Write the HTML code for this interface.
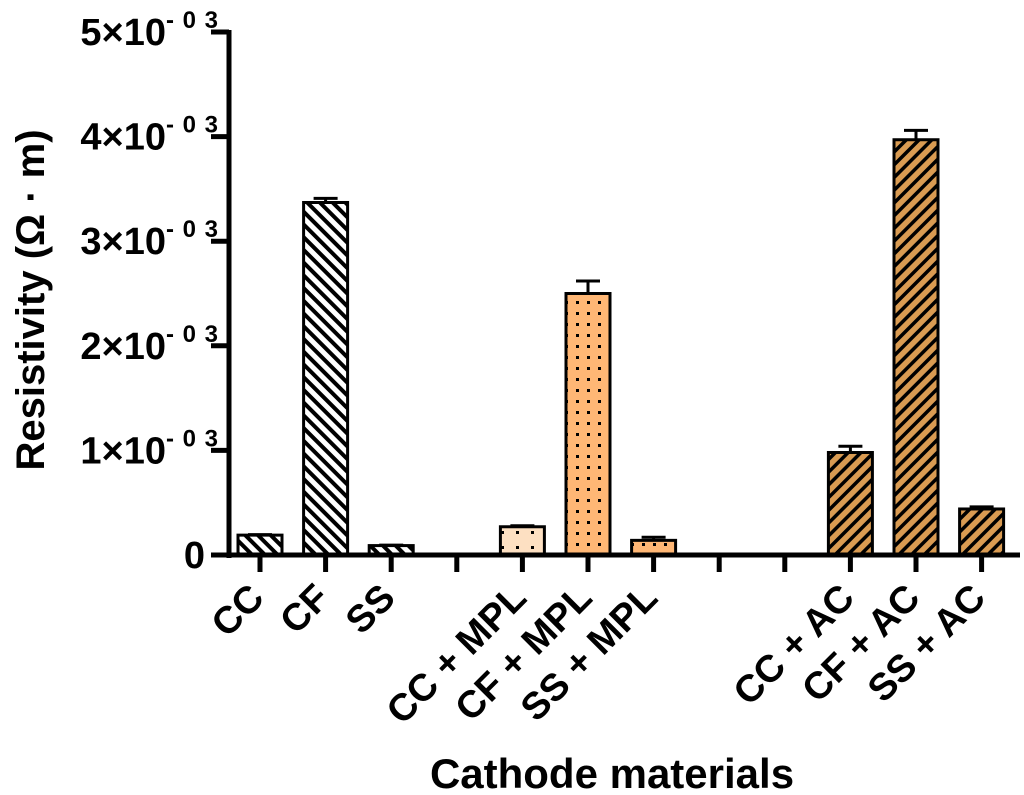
<!DOCTYPE html>
<html><head><meta charset="utf-8"><style>
body{margin:0;background:#fff;}
svg{display:block;font-family:"Liberation Sans",Arial,sans-serif;font-weight:bold;}
</style></head><body>
<svg id="chart" width="1024" height="795" viewBox="0 0 1024 795">
<defs>
<pattern id="hatchBW" width="9" height="9" patternUnits="userSpaceOnUse" patternTransform="rotate(-45)">
<rect width="9" height="9" fill="#fff"/><rect width="4" height="9" fill="#000"/></pattern>
<pattern id="hatchAC" width="9" height="9" patternUnits="userSpaceOnUse" patternTransform="rotate(45)">
<rect width="9" height="9" fill="#d99b52"/><rect width="3.5" height="9" fill="#000"/></pattern>
<pattern id="dotsLight" width="15" height="15" patternUnits="userSpaceOnUse">
<rect width="15" height="15" fill="#fde0c2"/><rect x="6" y="6" width="3" height="3" fill="#000"/></pattern>
<pattern id="dotsOrange" width="11" height="11" patternUnits="userSpaceOnUse">
<rect width="11" height="11" fill="#ffb775"/><rect x="4" y="4" width="3" height="3" fill="#000"/></pattern>
</defs>
<g id="bars"></g>
<g id="axes"></g>
<text x="612" y="788" text-anchor="middle" font-size="42">Cathode materials</text>
<text transform="translate(44,300) rotate(-90)" text-anchor="middle" font-size="40">Resistivity (Ω · m)</text>
</svg>
<script>
const categories=["CC","CF","SS","","CC + MPL","CF + MPL","SS + MPL","","","CC + AC","CF + AC","SS + AC"];
const values=[0.19,3.37,0.09,null,0.27,2.50,0.14,null,null,0.98,3.97,0.44];
const errors=[0.005,0.04,0.005,null,0.01,0.12,0.03,null,null,0.06,0.09,0.02];
const fills=["url(#hatchBW)","url(#hatchBW)","url(#hatchBW)","","url(#dotsLight)","url(#dotsOrange)","url(#dotsOrange)","","","url(#hatchAC)","url(#hatchAC)","url(#hatchAC)"];
const yTicks=[0,1,2,3,4,5];
const NS="http://www.w3.org/2000/svg";
const y0=555,yTop=32,yMax=5;
function yS(v){return y0-(v/yMax)*(y0-yTop);}
function xS(i){return 260+i*65.6;}
function mk(tag,attrs,parent){const e=document.createElementNS(NS,tag);for(const k in attrs)e.setAttribute(k,attrs[k]);parent.appendChild(e);return e;}
const bars=document.getElementById('bars'),axes=document.getElementById('axes');
values.forEach((v,i)=>{
 if(v===null)return;
 const cx=xS(i),top=yS(v);
 if(errors[i]){const et=yS(v+errors[i]);
  const l=mk('path',{d:`M${cx},${top} V${et} M${cx-12},${et} H${cx+12}`,stroke:'#000','stroke-width':3,fill:'none'},bars);
  
  }
 const r=mk('rect',{x:cx-22,y:top,width:44,height:y0-top,fill:fills[i],stroke:'#000','stroke-width':3},bars);
 
 
});
const ya=mk('line',{x1:229,y1:yTop-2,x2:229,y2:y0+3,stroke:'#000','stroke-width':5},axes);


const xa=mk('line',{x1:226,y1:y0,x2:1020,y2:y0,stroke:'#000','stroke-width':5},axes);


yTicks.forEach(t=>{
 const y=yS(t);
 mk('line',{x1:211,y1:y,x2:229,y2:y,stroke:'#000','stroke-width':5},axes);
 const tx=mk('text',{x:t===0?205:219,y:y+13,'text-anchor':'end','font-size':38},axes);
 
 
 if(t===0){tx.textContent='0';}
 else{tx.innerHTML=t+'×10<tspan font-size="24" dy="-17" letter-spacing="1">- 0 3</tspan>';}
});
categories.forEach((c,i)=>{
 const x=xS(i);
 mk('line',{x1:x,y1:y0,x2:x,y2:572,stroke:'#000','stroke-width':5},axes);
 if(!c)return;
 const tx=mk('text',{transform:`translate(${x+6},600) rotate(-45)`,'text-anchor':'end','font-size':38},axes);
 tx.textContent=c;
 
 
});
</script>
</body></html>
